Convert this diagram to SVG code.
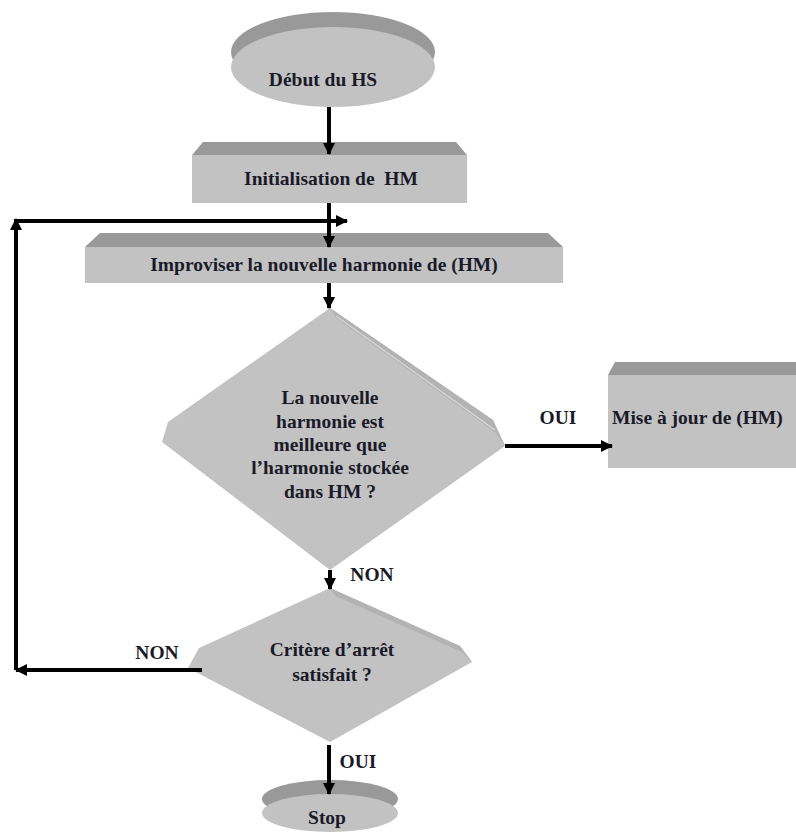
<svg xmlns="http://www.w3.org/2000/svg" width="796" height="834" viewBox="0 0 796 834">
  <defs>
    <style>
      .lbl { font-family: "Liberation Serif", "Times New Roman", serif; font-weight: bold; font-size: 19.5px; fill: #1a1a28; text-anchor: middle; }
      .face { fill: #c2c2c2; }
      .top { fill: #999999; }
      .bevel { fill: #b3b3b3; }
      .hl { fill: none; stroke: #d6d6d6; stroke-width: 1.5; }
      .wire { fill: none; stroke: #000; stroke-width: 4; }
    </style>
    <marker id="head" viewBox="0 0 12 12" refX="11" refY="6" markerWidth="12" markerHeight="12" markerUnits="userSpaceOnUse" orient="auto">
      <path d="M0,0 L12,6 L0,12 Z" fill="#000"/>
    </marker>
  </defs>

  <rect width="796" height="834" fill="#ffffff"/>

  <!-- start terminal -->
  <g id="start">
    <ellipse class="top" cx="333" cy="52" rx="102" ry="40"/>
    <ellipse class="face" cx="333" cy="67" rx="102" ry="40"/>
    <text class="lbl" x="323" y="86">Début du HS</text>
  </g>

  <!-- initialisation -->
  <g id="init">
    <polygon class="top" points="192,155 203,142 456,142 467,155"/>
    <rect class="face" x="192" y="155" width="275" height="48"/>
    <text class="lbl" x="331" y="185" xml:space="preserve">Initialisation de  HM</text>
  </g>

  <!-- improvisation -->
  <g id="improvise">
    <polygon class="top" points="85,247 100,233 548,233 563,247"/>
    <rect class="face" x="85" y="247" width="478" height="36"/>
    <text class="lbl" x="324" y="271">Improviser la nouvelle harmonie de (HM)</text>
  </g>

  <!-- comparison decision -->
  <g id="compare">
    <polygon class="face" points="330,308 493,420 505,446 330,570 162,442 168,422"/>
    <polygon class="bevel" points="330,308 493,420 505,446 495,432 336,318"/>
    <polyline class="hl" points="336,316 495,430"/>
    <text class="lbl" x="330" y="404">La nouvelle</text>
    <text class="lbl" x="330" y="428">harmonie est</text>
    <text class="lbl" x="330" y="451">meilleure que</text>
    <text class="lbl" x="330" y="474">l’harmonie stockée</text>
    <text class="lbl" x="330" y="498">dans HM ?</text>
  </g>

  <!-- update -->
  <g id="update">
    <polygon class="top" points="608,375 615,362 800,362 800,375"/>
    <rect class="face" x="608" y="375" width="192" height="93"/>
    <text class="lbl" x="612" y="424" style="text-anchor:start">Mise à jour de (HM)</text>
  </g>

  <!-- stopping criterion -->
  <g id="criterion">
    <polygon class="face" points="330,588 460,646 472,662 330,742 188,668 199,648"/>
    <polygon class="bevel" points="330,588 460,646 472,662 462,652 335,596"/>
    <text class="lbl" x="332" y="656">Critère d’arrêt</text>
    <text class="lbl" x="332" y="681">satisfait ?</text>
  </g>

  <!-- end terminal -->
  <g id="stop">
    <ellipse class="top" cx="330" cy="799" rx="68" ry="19"/>
    <ellipse class="face" cx="330" cy="813" rx="68" ry="19"/>
    <text class="lbl" x="327" y="824">Stop</text>
  </g>

  <!-- connectors -->
  <g id="connectors">
    <path class="wire" d="M329,107 V154" marker-end="url(#head)"/>
    <path class="wire" d="M329,203 V247" marker-end="url(#head)"/>
    <path class="wire" d="M16,221 H347" marker-end="url(#head)"/>
    <path class="wire" d="M16,670 V219" marker-end="url(#head)"/>
    <path class="wire" d="M202,670 H16" marker-end="url(#head)"/>
    <path class="wire" d="M329,283 V308" marker-end="url(#head)"/>
    <path class="wire" d="M505,446 H612" marker-end="url(#head)"/>
    <path class="wire" d="M330,570 V589" marker-end="url(#head)"/>
    <path class="wire" d="M329,745 V794" marker-end="url(#head)"/>
    <text class="lbl" x="558" y="424">OUI</text>
    <text class="lbl" x="372" y="581">NON</text>
    <text class="lbl" x="157" y="659">NON</text>
    <text class="lbl" x="358" y="768">OUI</text>
  </g>
</svg>
